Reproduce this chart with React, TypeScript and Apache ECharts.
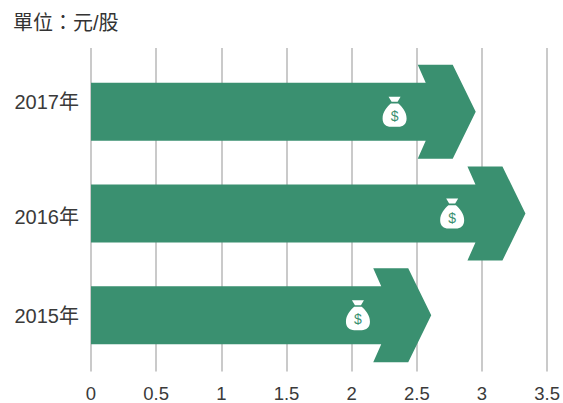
import React, { useEffect, useRef } from "react";
import * as echarts from "echarts";

const categories = ["2015年", "2016年", "2017年"];
const values = [2.6, 3.32, 2.94];
const bagPositions = [2.04, 2.76, 2.32];
const xTicks = [0, 0.5, 1, 1.5, 2, 2.5, 3, 3.5];
const unitLabel = "單位：元/股";

const FONT = '"Liberation Sans", "Noto Sans CJK TC", sans-serif';
const GREEN = "#3a9070";
const BAG_BODY =
  "M8 0 L24 0 L20 6 L12 6 Z M11 8 L21 8 C26 12 32 18 32 26 C32 33 27 36 21 36 L11 36 C5 36 0 33 0 26 C0 18 6 12 11 8 Z";
const labelBase = { fontFamily: FONT, fontSize: 20, color: "#3a3a3a" };

export default function App() {
  const ref = useRef<HTMLDivElement>(null);
  useEffect(() => {
    const chart = echarts.init(ref.current!, undefined, { renderer: "svg" });
    chart.setOption({
      animation: false,
      backgroundColor: "#ffffff",
      title: {
        text: unitLabel,
        left: 13,
        top: 13,
        padding: 0,
        textStyle: { fontFamily: FONT, fontSize: 20, fontWeight: "normal", color: "#333333" },
      },
      grid: [
        { left: 91, right: 14, top: 48, bottom: 30 },
        { left: 91, right: 14, top: 61, height: 305 },
      ],
      xAxis: [
        {
          gridIndex: 0,
          type: "value",
          min: 0,
          max: 3.5,
          interval: 0.5,
          axisLine: { show: false },
          axisTick: { show: false },
          axisLabel: {
            margin: 13,
            fontFamily: FONT,
            fontSize: 18.5,
            color: "#3a3a3a",
            formatter: (v: number) => (xTicks.includes(v) ? String(v) : ""),
          },
          splitLine: { show: true, lineStyle: { color: "#cacaca", width: 2 } },
        },
        { gridIndex: 1, type: "value", min: 0, max: 3.5, show: false },
      ],
      yAxis: [
        { gridIndex: 0, type: "value", show: false, splitLine: { show: false } },
        {
          gridIndex: 1,
          type: "category",
          data: categories,
          axisLine: { show: false },
          axisTick: { show: false },
          axisLabel: {
            margin: 12,
            ...labelBase,
            formatter: (v: string, i: number) => `{r${i}|${v}}`,
            rich: {
              r0: { ...labelBase, padding: [2, 0, 0, 0] },
              r1: { ...labelBase, padding: [7, 0, 0, 0] },
              r2: { ...labelBase, padding: [0, 0, 20, 0] },
            },
          },
        },
      ],
      series: [
        {
          type: "custom",
          xAxisIndex: 1,
          yAxisIndex: 1,
          clip: false,
          data: values.map((v, i) => [v, i, bagPositions[i]]),
          encode: { x: 0, y: 1 },
          renderItem: (_p: any, api: any) => {
            const [tipX, cy] = api.coord([api.value(0), api.value(1)]);
            const [x0] = api.coord([0, api.value(1)]);
            const [bagX] = api.coord([api.value(2), api.value(1)]);
            return {
              type: "group",
              children: [
                {
                  type: "polygon",
                  shape: {
                    points: [
                      [x0, cy - 29],
                      [tipX - 50, cy - 29],
                      [tipX - 58, cy - 47],
                      [tipX - 23, cy - 47],
                      [tipX, cy],
                      [tipX - 23, cy + 47],
                      [tipX - 58, cy + 47],
                      [tipX - 50, cy + 29],
                      [x0, cy + 29],
                    ],
                  },
                  style: { fill: GREEN },
                },
                {
                  type: "path",
                  shape: {
                    pathData: BAG_BODY,
                    x: bagX - 12,
                    y: cy - 15,
                    width: 24,
                    height: 30,
                    layout: "cover",
                  },
                  style: { fill: "#ffffff" },
                },
                {
                  type: "text",
                  style: {
                    x: bagX,
                    y: cy + 4,
                    text: "$",
                    fill: GREEN,
                    font: `14px ${FONT}`,
                    align: "center",
                    verticalAlign: "middle",
                  },
                },
              ],
            };
          },
        },
      ],
    });
    return () => chart.dispose();
  }, []);
  return (
    <div
      ref={ref}
      style={{ position: "absolute", left: 0, top: 0, width: 563, height: 403 }}
    />
  );
}
